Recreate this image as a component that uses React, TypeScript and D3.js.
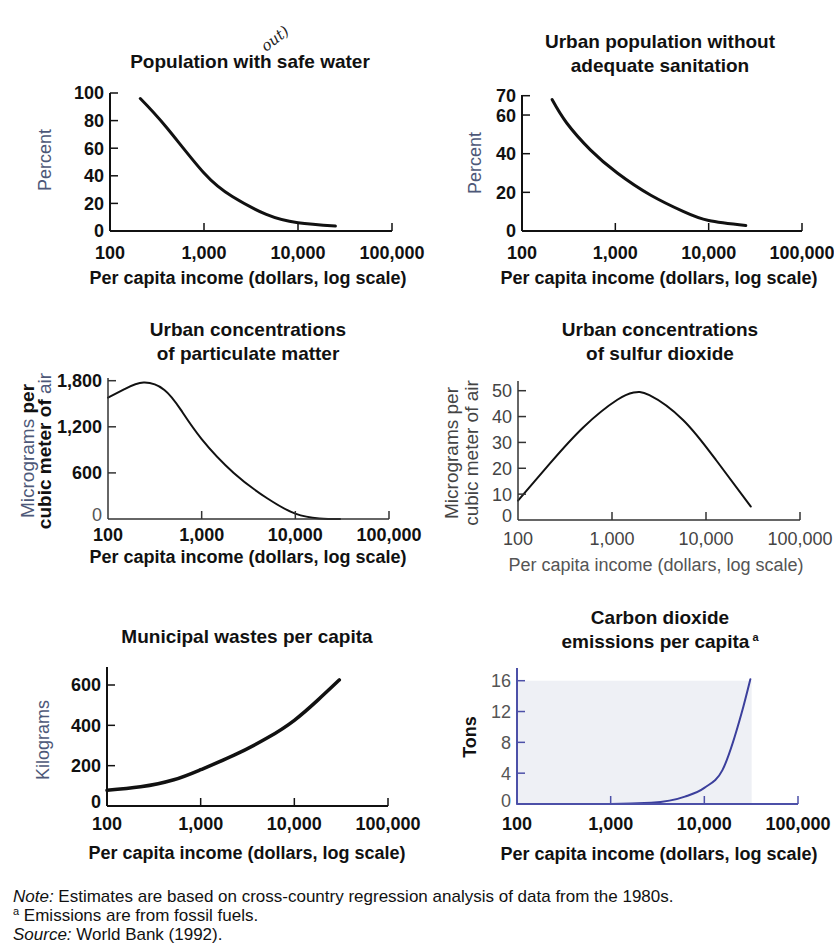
import React from 'react';
import * as d3 from 'd3';

// per capita income (dollars) and values
const waterIncome = [210, 400, 1000, 2000, 4600, 10000, 25000];
const waterPercent = [96, 75, 42, 25, 12, 6, 3.6];

const sanitationIncome = [210, 300, 540, 1050, 2400, 5400, 10000, 25000];
const sanitationPercent = [68, 56, 42, 30, 18.5, 10, 5.4, 2.8];

const particulateIncome = [100, 150, 240, 400, 600, 1000, 2200, 5000, 10000, 18000, 30000];
const particulateValue = [1580, 1690, 1775, 1680, 1420, 1040, 600, 270, 70, 8, 0];

const sulfurIncome = [100, 220, 500, 1140, 1700, 2500, 5700, 12900, 30000];
const sulfurValue = [7.5, 22, 36, 46.5, 49.3, 48.3, 38.7, 23, 5.2];

const wastesIncome = [100, 228, 517, 1000, 2275, 5170, 10000, 17800, 30200];
const wastesKg = [78, 95, 130, 180, 252, 338, 425, 525, 625];

const co2Income = [100, 1000, 2700, 6200, 10000, 15600, 25000, 31000];
const co2Tons = [0, 0, 0.15, 0.95, 2.1, 4.4, 11.8, 16.2];

const xTicks = [100, 1000, 10000, 100000];
const waterTicks = [0, 20, 40, 60, 80, 100];
const sanitationTicks = [0, 20, 40, 60, 70];
const particulateTicks = [0, 600, 1200, 1800];
const sulfurTicks = [0, 10, 20, 30, 40, 50];
const wastesTicks = [0, 200, 400, 600];
const co2Ticks = [0, 4, 8, 12, 16];

const xAxisTitle = 'Per capita income (dollars, log scale)';

const FONT = "'Liberation Sans', Arial, Helvetica, sans-serif";
const fmt = d3.format(',');
const SLATE = '#4d5878';

function Panel(props) {
  const {
    left, right, base, top, axisTop, yMax, ticks, xs, ys, curve = d3.curveNatural,
    lineColor = '#111', lineWidth = 3, axisColor = '#111', axisWidth = 2,
    tickColor = '#111', tickWeight = 'bold', xTickColor = '#111', xTickWeight = 'bold',
    xTickDy, titleDy, titleX, titleColor = '#111', titleWeight = 'bold',
    zeroColor, zeroWeight, zeroLift = 0, background,
  } = props;

  const x = d3.scaleLog().domain([100, 100000]).range([left, right]);
  const y = d3.scaleLinear().domain([0, yMax]).range([base, top]);
  const pts = xs.map((v, i) => [v, ys[i]]);
  const line = d3.line()
    .x((d) => x(d[0]))
    .y((d) => Math.min(base, y(d[1])))
    .curve(curve);

  return (
    <g fontFamily={FONT}>
      {background ? (
        <rect x={left} y={y(yMax)} width={x(32000) - left} height={base - y(yMax)} fill={background} />
      ) : null}
      <path d={line(pts)} fill="none" stroke={lineColor} strokeWidth={lineWidth} strokeLinecap="round" />
      <line x1={left} x2={left} y1={base} y2={axisTop} stroke={axisColor} strokeWidth={axisWidth} />
      <line x1={left} x2={right} y1={base} y2={base} stroke={axisColor} strokeWidth={axisWidth} />
      {ticks.filter((t) => t > 0).map((t) => (
        <line key={'yt' + t} x1={left} x2={left + 8} y1={y(t)} y2={y(t)} stroke={axisColor} strokeWidth={1.5} />
      ))}
      {xTicks.slice(1).map((t) => (
        <line key={'xt' + t} x1={x(t)} x2={x(t)} y1={base} y2={base - 8} stroke={axisColor} strokeWidth={1.5} />
      ))}
      {ticks.map((t) => (
        <text key={'yl' + t} x={left - 6} y={y(t) - (t === 0 ? zeroLift : 0)} dy="0.36em" textAnchor="end" fontSize={18}
          fill={t === 0 && zeroColor ? zeroColor : tickColor}
          fontWeight={t === 0 && zeroWeight ? zeroWeight : tickWeight}>
          {fmt(t)}
        </text>
      ))}
      {xTicks.map((t) => (
        <text key={'xl' + t} x={x(t)} y={base + xTickDy} textAnchor="middle" fontSize={18}
          fill={xTickColor} fontWeight={xTickWeight}>
          {fmt(t)}
        </text>
      ))}
      <text x={titleX} y={base + titleDy} textAnchor="middle" fontSize={18} fill={titleColor} fontWeight={titleWeight}>
        {xAxisTitle}
      </text>
    </g>
  );
}

function Title({ x, y, lines }) {
  return (
    <text x={x} y={y} textAnchor="middle" fontFamily={FONT} fontSize={19} fontWeight="bold" fill="#111">
      {lines.map((l, i) => (
        <tspan key={i} x={x} dy={i === 0 ? 0 : 23.5}>{l}</tspan>
      ))}
    </text>
  );
}

export default function App() {
  return (
    <svg width={834} height={945} style={{ position: 'absolute', left: 0, top: 0, display: 'block', background: '#fff' }}>
      {/* handwritten mark above the first title */}
      <text x={266} y={52} transform="rotate(-38 266 52)" fontFamily="'DejaVu Serif', serif" fontStyle="italic"
        fontSize={15} fill="#222">out)</text>

      <Title x={250} y={68} lines={['Population with safe water']} />
      <Panel left={110} right={392} base={231} top={93} axisTop={93} yMax={100} ticks={waterTicks}
        xs={waterIncome} ys={waterPercent} xTickDy={28} titleDy={53} titleX={248} />
      <text transform="translate(51,160) rotate(-90)" textAnchor="middle" fontFamily={FONT} fontSize={18} fill={SLATE}>Percent</text>

      <Title x={660} y={48} lines={['Urban population without', 'adequate sanitation']} />
      <Panel left={522} right={802} base={231} top={95.7} axisTop={95} yMax={70} ticks={sanitationTicks}
        xs={sanitationIncome} ys={sanitationPercent} xTickDy={28} titleDy={53} titleX={659} />
      <text transform="translate(481,163) rotate(-90)" textAnchor="middle" fontFamily={FONT} fontSize={18} fill={SLATE}>Percent</text>

      <Title x={248} y={336} lines={['Urban concentrations', 'of particulate matter']} />
      <Panel left={108} right={389} base={519} top={380.7} axisTop={378} yMax={1800} ticks={particulateTicks}
        xs={particulateIncome} ys={particulateValue} lineWidth={2} axisColor="#333" axisWidth={1.5}
        zeroColor="#555" zeroWeight="normal" zeroLift={4} xTickDy={22} titleDy={44} titleX={248} />
      <text transform="translate(34,451) rotate(-90)" textAnchor="middle" fontFamily={FONT} fontSize={19}>
        <tspan fill={SLATE}>Micrograms </tspan><tspan fontWeight="bold" fill="#111">per</tspan>
      </text>
      <text transform="translate(51,451) rotate(-90)" textAnchor="middle" fontFamily={FONT} fontSize={19}>
        <tspan fontWeight="bold" fill="#111">cubic meter of </tspan><tspan fill={SLATE}>air</tspan>
      </text>

      <Title x={660} y={336} lines={['Urban concentrations', 'of sulfur dioxide']} />
      <Panel left={518} right={800} base={520} top={390.7} axisTop={381} yMax={50} ticks={sulfurTicks}
        xs={sulfurIncome} ys={sulfurValue} lineWidth={2} axisColor="#333" axisWidth={1.5}
        tickColor="#444" tickWeight="normal" xTickColor="#444" xTickWeight="normal" zeroLift={4}
        titleColor="#555" titleWeight="normal" xTickDy={25} titleDy={51} titleX={656} />
      <text transform="translate(458,453) rotate(-90)" textAnchor="middle" fontFamily={FONT} fontSize={19} fill="#444">Micrograms per</text>
      <text transform="translate(478,453) rotate(-90)" textAnchor="middle" fontFamily={FONT} fontSize={19} fill="#444">cubic meter of air</text>

      <Title x={247} y={643} lines={['Municipal wastes per capita']} />
      <Panel left={107} right={388} base={806} top={685} axisTop={667} yMax={600} ticks={wastesTicks}
        xs={wastesIncome} ys={wastesKg} lineWidth={3.5} zeroLift={4} xTickDy={24} titleDy={53} titleX={247} />
      <text transform="translate(49,740) rotate(-90)" textAnchor="middle" fontFamily={FONT} fontSize={18} fill={SLATE}>Kilograms</text>

      <text x={660} y={624} textAnchor="middle" fontFamily={FONT} fontSize={19} fontWeight="bold" fill="#111">
        <tspan x={660}>Carbon dioxide</tspan>
        <tspan x={660} dy={23.5}>emissions per capita<tspan fontSize={11} dy={-7}> a</tspan></tspan>
      </text>
      <Panel left={517} right={798} base={804} top={680.7} axisTop={668} yMax={16} ticks={co2Ticks}
        xs={co2Income} ys={co2Tons} curve={d3.curveMonotoneX} lineColor="#3b3f9c" lineWidth={2}
        axisColor="#4c50a8" axisWidth={2} tickColor="#555" tickWeight="normal" background="#eef0f5"
        zeroLift={3} xTickDy={26} titleDy={56} titleX={659} />
      <text transform="translate(476,737) rotate(-90)" textAnchor="middle" fontFamily={FONT} fontSize={18} fontWeight="bold" fill="#111">Tons</text>

      <g fontFamily={FONT} fontSize={17} fill="#111">
        <text x={13} y={902}><tspan fontStyle="italic">Note:</tspan> Estimates are based on cross-country regression analysis of data from the 1980s.</text>
        <text x={13} y={921}><tspan fontSize={11} dy={-6}>a</tspan><tspan dy={6}> Emissions are from fossil fuels.</tspan></text>
        <text x={13} y={940}><tspan fontStyle="italic">Source:</tspan> World Bank (1992).</text>
      </g>
    </svg>
  );
}
